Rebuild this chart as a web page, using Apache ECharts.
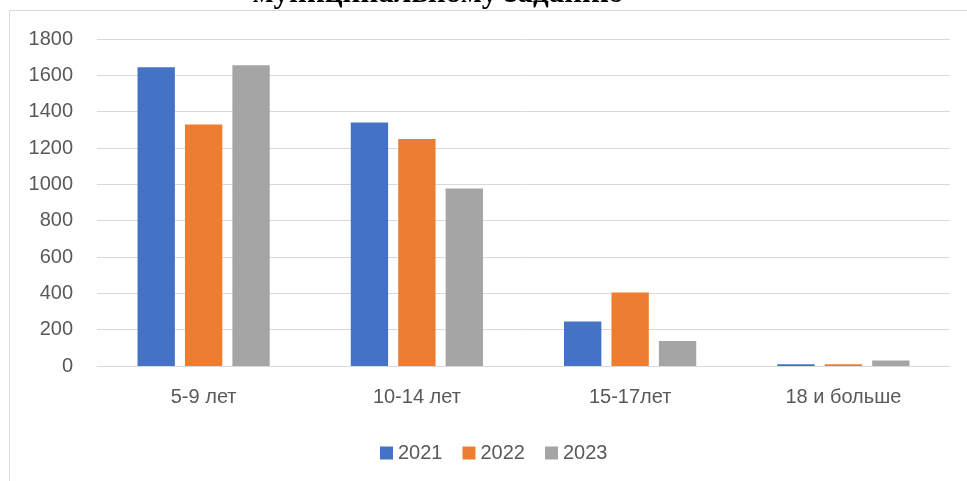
<!DOCTYPE html>
<html><head><meta charset="utf-8">
<script src="https://cdn.jsdelivr.net/npm/echarts@6/dist/echarts.min.js"></script>
<style>html,body{margin:0;padding:0;background:#fff}#c{width:967px;height:481px}</style>
</head><body><div id="c"></div>
<script>
const categories = ['5-9 лет', '10-14 лет', '15-17лет', '18 и больше'];
const s2021 = [1645, 1340, 245, 10];
const s2022 = [1330, 1250, 405, 10];
const s2023 = [1655, 977, 138, 30];
const seriesNames = ['2021', '2022', '2023'];
const colors = ['#4472C4', '#ED7D31', '#A5A5A5'];
const titleText = 'муниципальному заданию';

const chart = echarts.init(document.getElementById('c'), null, {renderer: 'canvas'});
const font = '"Liberation Sans", Arial, sans-serif';
chart.setOption({
  animation: false,
  color: colors,
  graphic: [
    {type: 'rect', shape: {x: 9.5, y: 10.5, width: 970, height: 480}, style: {fill: 'none', stroke: '#d9d9d9', lineWidth: 1}, z: -1},
    {type: 'text', x: 438, y: 9, style: {text: titleText, font: 'bold 31px "Liberation Serif", "Times New Roman", serif', fill: '#000', textAlign: 'center', textVerticalAlign: 'bottom'}}
  ],
  grid: {left: 97, right: 17, top: 39, bottom: 115},
  legend: {
    data: seriesNames, left: 375, top: 438, itemWidth: 13, itemHeight: 13, itemGap: 20,
    icon: 'rect', textStyle: {color: '#595959', fontSize: 20, fontFamily: font}
  },
  xAxis: {
    type: 'category', data: categories,
    axisLine: {lineStyle: {color: '#d9d9d9'}}, axisTick: {show: false},
    axisLabel: {color: '#595959', fontSize: 20, fontFamily: font, margin: 21}
  },
  yAxis: {
    type: 'value', min: 0, max: 1800, interval: 200,
    axisLine: {show: false}, axisTick: {show: false},
    splitLine: {lineStyle: {color: '#d9d9d9'}},
    axisLabel: {color: '#595959', fontSize: 20, fontFamily: font, margin: 24, formatter: v => String(v)}
  },
  series: [
    {name: seriesNames[0], type: 'bar', data: s2021, barGap: '27%', barCategoryGap: '38%'},
    {name: seriesNames[1], type: 'bar', data: s2022, barGap: '27%', barCategoryGap: '38%'},
    {name: seriesNames[2], type: 'bar', data: s2023, barGap: '27%', barCategoryGap: '38%'}
  ]
});
</script></body></html>
